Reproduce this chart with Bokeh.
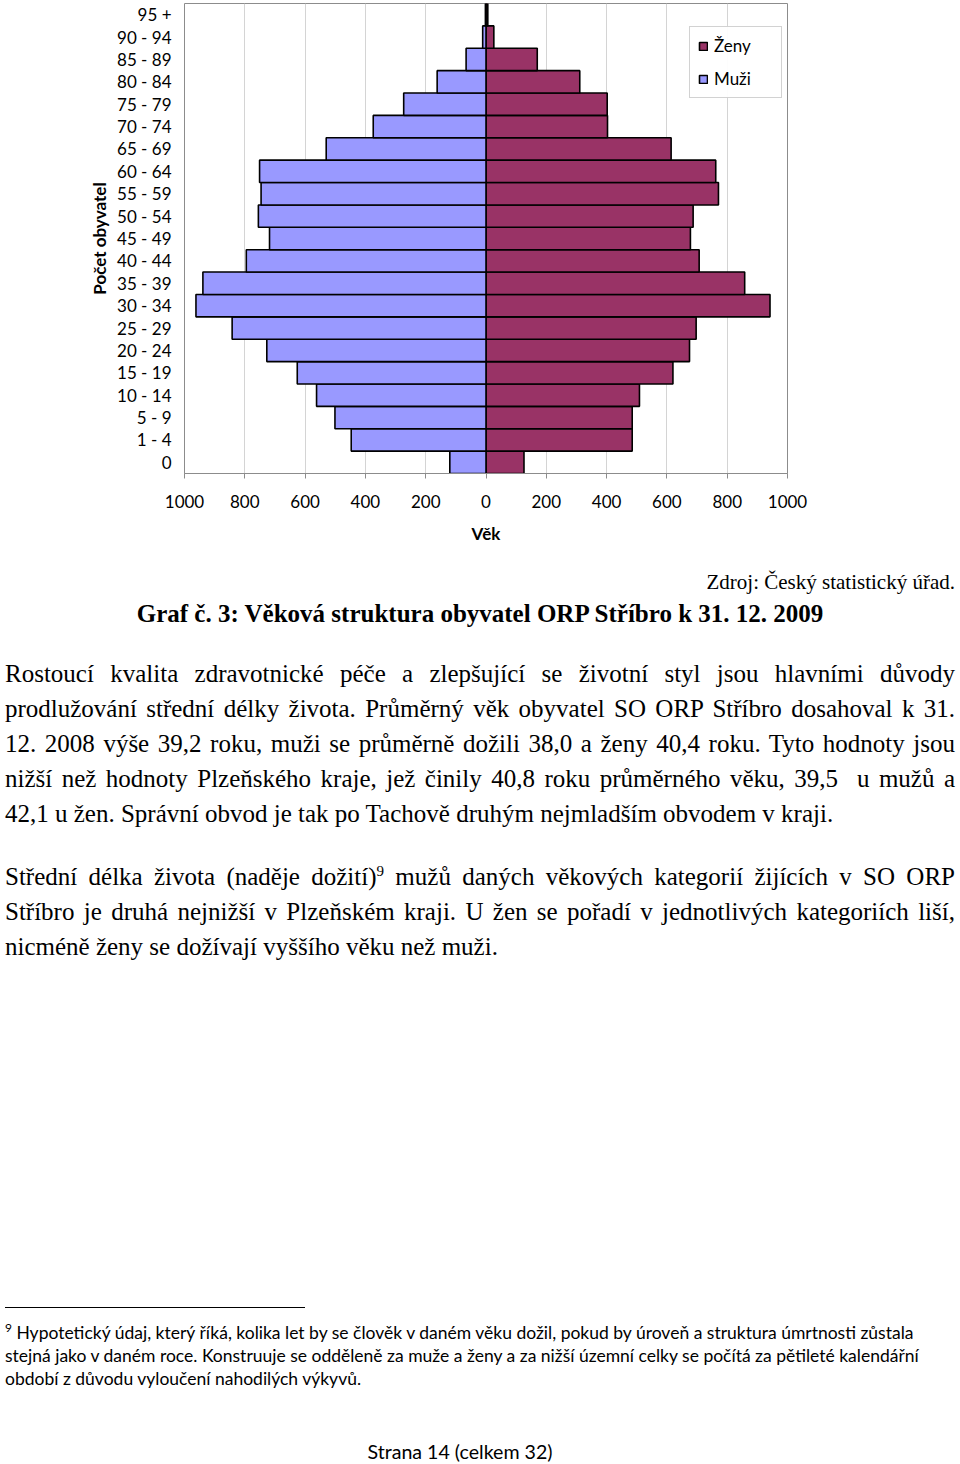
from bokeh.plotting import figure
from bokeh.models import (Range1d, FactorRange, FixedTicker, CustomJSTickFormatter,
                          Legend, LegendItem, Div, ColumnDataSource)
from bokeh.layouts import column
from bokeh.embed import file_html
from bokeh.resources import INLINE

# ---- data ----
ages = ["0", "1 - 4", "5 - 9", "10 - 14", "15 - 19", "20 - 24", "25 - 29", "30 - 34",
        "35 - 39", "40 - 44", "45 - 49", "50 - 54", "55 - 59", "60 - 64", "65 - 69",
        "70 - 74", "75 - 79", "80 - 84", "85 - 89", "90 - 94", "95 +"]
men = [120, 447, 501, 562, 626, 727, 842, 962, 939, 795, 718, 755, 746, 751, 530,
       374, 273, 162, 66, 11, 2]
women = [126, 485, 485, 509, 620, 675, 697, 942, 858, 707, 678, 687, 771, 762, 614,
         403, 402, 311, 170, 26, 6]
x_ticks = [-1000, -800, -600, -400, -200, 0, 200, 400, 600, 800, 1000]

source = ColumnDataSource(dict(age=ages, men_left=[-v for v in men], women=women,
                               zero=[0] * len(ages)))

FONT = "Lato"
p = figure(width=960, height=555, output_backend="svg", toolbar_location=None,
           x_range=Range1d(-1000, 1000), y_range=FactorRange(factors=ages, range_padding=0),
           min_border_left=184, min_border_right=173, min_border_top=3, min_border_bottom=82)

r_w = p.hbar(y="age", left="zero", right="women", height=1.0, source=source,
             fill_color="#993366", line_color="#000000", line_width=1.6)
r_m = p.hbar(y="age", left="men_left", right="zero", height=1.0, source=source,
             fill_color="#9999FF", line_color="#000000", line_width=1.6)

p.outline_line_color = "#8c8c8c"
p.outline_line_width = 1
p.background_fill_color = "white"
p.border_fill_color = "white"

p.xgrid.ticker = FixedTicker(ticks=x_ticks)
p.xgrid.grid_line_color = "#d4d4d4"
p.ygrid.grid_line_color = None

xa = p.xaxis[0]
xa.ticker = FixedTicker(ticks=x_ticks)
xa.formatter = CustomJSTickFormatter(code="return Math.abs(tick).toString()")
xa.axis_line_color = "#8c8c8c"
xa.major_tick_line_color = "#8c8c8c"
xa.major_tick_in = 0
xa.major_tick_out = 5
xa.minor_tick_line_color = None
xa.major_label_text_font = FONT
xa.major_label_text_font_size = "17px"
xa.major_label_text_color = "#000000"
xa.major_label_standoff = 16
xa.axis_label = "Věk"
xa.axis_label_text_font = FONT
xa.axis_label_text_font_size = "17px"
xa.axis_label_text_font_style = "bold"
xa.axis_label_text_color = "#000000"
xa.axis_label_standoff = 12

ya = p.yaxis[0]
ya.axis_line_color = None
ya.major_tick_line_color = None
ya.minor_tick_line_color = None
ya.major_tick_in = 0
ya.major_tick_out = 0
ya.major_label_text_font = FONT
ya.major_label_text_font_size = "17px"
ya.major_label_text_color = "#000000"
ya.major_label_standoff = 13
ya.axis_label = "Počet obyvatel"
ya.axis_label_text_font = FONT
ya.axis_label_text_font_size = "17px"
ya.axis_label_text_font_style = "bold"
ya.axis_label_text_color = "#000000"
ya.axis_label_standoff = 4

legend = Legend(items=[LegendItem(label="Ženy", renderers=[r_w]),
                       LegendItem(label="Muži", renderers=[r_m])],
                location=(505, 375), padding=8, spacing=12, margin=0,
                glyph_width=10, glyph_height=10, label_standoff=6,
                label_width=59, label_height=19,
                label_text_font=FONT, label_text_font_size="17px",
                label_text_color="#000000",
                border_line_color="#a6a6a6", border_line_width=1,
                background_fill_color="white")
p.add_layout(legend)

# ---- text below chart ----
serif = "'Liberation Serif', 'Times New Roman', serif"
sans = "Lato, 'Noto Sans', sans-serif"

def line(top, text, left=5, width=950, size=25, lh=35, align="justify", family=serif, weight="normal"):
    last = "justify" if align == "justify" else align
    return (f'<div style="position:absolute; left:{left}px; top:{top}px; width:{width}px; '
            f'font-family:{family}; font-size:{size}px; line-height:{lh}px; font-weight:{weight}; '
            f'text-align:{align}; text-align-last:{last}; color:#000; white-space:nowrap;">{text}</div>')

p1 = ["Rostoucí kvalita zdravotnické péče a zlepšující se životní styl jsou hlavními důvody",
      "prodlužování střední délky života. Průměrný věk obyvatel SO ORP Stříbro dosahoval k 31.",
      "12. 2008 výše 39,2 roku, muži se průměrně dožili 38,0 a ženy 40,4 roku. Tyto hodnoty jsou",
      "nižší než hodnoty Plzeňského kraje, jež činily 40,8 roku průměrného věku, 39,5&nbsp; u mužů a",
      "42,1 u žen. Správní obvod je tak po Tachově druhým nejmladším obvodem v kraji."]
p2 = ["Střední délka života (naděje dožití)<sup style='font-size:15px; line-height:0'>9</sup> mužů daných věkových kategorií žijících v SO ORP",
      "Stříbro je druhá nejnižší v Plzeňském kraji. U žen se pořadí v jednotlivých kategoriích liší,",
      "nicméně ženy se dožívají vyššího věku než muži."]
fn = ["<sup style='font-size:12px; line-height:0'>9</sup> Hypotetický údaj, který říká, kolika let by se člověk v daném věku dožil, pokud by úroveň a struktura úmrtnosti zůstala",
      "stejná jako v daném roce. Konstruuje se odděleně za muže a ženy a za nižší územní celky se počítá za pětileté kalendářní",
      "období z důvodu vyloučení nahodilých výkyvů."]

parts = []
parts.append(line(15, "Zdroj: Český statistický úřad.", left=0, width=955, size=21, lh=24, align="right"))
parts.append(line(44, "Graf č. 3: Věková struktura obyvatel ORP Stříbro k 31. 12. 2009", left=0, width=960,
                  size=25, lh=30, align="center", weight="bold"))
for i, t in enumerate(p1):
    parts.append(line(100.5 + 35 * i, t, align="left" if i == len(p1) - 1 else "justify"))
for i, t in enumerate(p2):
    parts.append(line(303.5 + 35 * i, t, align="left" if i == len(p2) - 1 else "justify"))
parts.append('<div style="position:absolute; left:5px; top:752px; width:300px; height:0; border-top:1px solid #000;"></div>')
for i, t in enumerate(fn):
    parts.append(line(765.5 + 23 * i, t, width=950, size=17.5, lh=23, align="left", family=sans))
parts.append(line(885, "Strana 14 (celkem 32)", left=0, width=920, size=19.6, lh=24, align="center", family=sans))

html = '<div style="position:relative; width:960px; height:909px; background:white;">' + "".join(parts) + "</div>"
div = Div(text=html, width=960, height=909, margin=0)

layout = column(p, div, spacing=0)
open("out.html", "w").write(file_html(layout, INLINE))
